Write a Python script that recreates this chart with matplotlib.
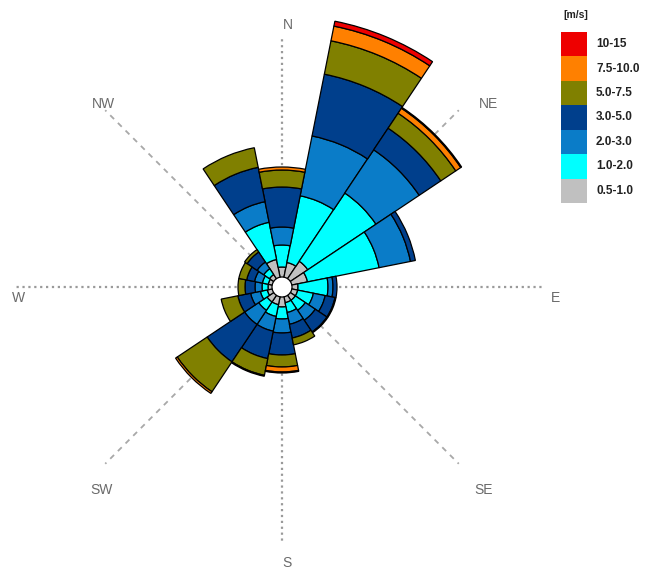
import numpy as np
import matplotlib
matplotlib.use("Agg")
import matplotlib.pyplot as plt

# wind rose: 16 sectors, frequency (%) per speed class
directions = ["N", "NNE", "NE", "ENE", "E", "ESE", "SE", "SSE",
              "S", "SSW", "SW", "WSW", "W", "WNW", "NW", "NNW"]
speed_classes = ["0.5-1.0", "1.0-2.0", "2.0-3.0", "3.0-5.0", "5.0-7.5", "7.5-10.0", "10-15"]
colors = ["#c0c0c0", "#00ffff", "#0a7cc8", "#003f8c", "#808000", "#ff8000", "#ee0000"]

f_05_1 = [0.50, 0.75, 1.05, 0.80, 0.30, 0.30, 0.30, 0.30, 0.50, 0.40, 0.40, 0.25, 0.20, 0.20, 0.25, 0.90]
f_1_2 = [1.10, 3.40, 4.10, 3.65, 1.50, 0.80, 0.60, 0.50, 0.60, 0.60, 0.50, 0.35, 0.30, 0.30, 0.35, 1.90]
f_2_3 = [0.90, 3.05, 2.60, 1.60, 0.25, 0.60, 0.60, 0.60, 0.70, 0.75, 0.85, 0.50, 0.35, 0.40, 0.40, 1.05]
f_3_5 = [2.00, 3.15, 1.30, 0.25, 0.20, 0.50, 0.70, 0.70, 1.10, 1.40, 2.25, 0.65, 0.50, 0.40, 0.60, 1.75]
f_5_75 = [0.85, 1.70, 0.90, 0.00, 0.00, 0.05, 0.05, 0.35, 0.60, 0.85, 1.80, 0.85, 0.35, 0.40, 0.15, 1.00]
f_75_10 = [0.15, 0.75, 0.30, 0.00, 0.00, 0.00, 0.00, 0.00, 0.25, 0.05, 0.10, 0.00, 0.00, 0.00, 0.00, 0.00]
f_10_15 = [0.00, 0.25, 0.05, 0.00, 0.00, 0.00, 0.00, 0.00, 0.05, 0.00, 0.00, 0.00, 0.00, 0.00, 0.00, 0.00]

series = [f_05_1, f_1_2, f_2_3, f_3_5, f_5_75, f_75_10, f_10_15]
hole = 0.5

W, H = 647, 571
cx, cy = 282, 284          # rose centre, pixels from bottom-left
R = 275                    # axes radius in pixels
rmax = R / 20.0

fig = plt.figure(figsize=(W / 100, H / 100), dpi=100)
ax = fig.add_axes([(cx - R) / W, (cy - R) / H, 2 * R / W, 2 * R / H], projection="polar")
ax.set_theta_zero_location("N")
ax.set_theta_direction(-1)
ax.set_ylim(0, rmax)
ax.axis("off")

# compass lines (kept out of the centre hole)
for ang, r_end in [(0, 12.4), (180, 12.7), (90, 13.1), (270, 13.4)]:
    ax.plot([np.deg2rad(ang)] * 2, [hole, r_end], ls=":", color="#9a9a9a", lw=1.6, zorder=0)
for ang in [45, 135, 225, 315]:
    ax.plot([np.deg2rad(ang)] * 2, [hole, 12.5], ls=(0, (3, 3)), color="#a8a8a8", lw=1.3, zorder=0)

theta = np.deg2rad(np.arange(16) * 22.5)
width = np.deg2rad(22.5)
bottom = np.full(16, hole)
for vals, col in zip(series, colors):
    vals = np.array(vals)
    m = vals > 0
    ax.bar(theta[m], vals[m], width=width, bottom=bottom[m], color=col,
           edgecolor="black", linewidth=0.9, zorder=2)
    bottom = bottom + vals

# compass labels (pixel positions from top-left)
labels = {"N": (288, 25), "NE": (488, 104), "E": (556, 298), "SE": (484, 490),
          "S": (287, 563), "SW": (102, 490), "W": (18, 298), "NW": (103, 104)}
for txt, (x, y) in labels.items():
    fig.text(x / W, 1 - y / H, txt, ha="center", va="center", fontsize=10,
             color="#6a6a6a", family="Liberation Sans")

# legend
lax = fig.add_axes([561 / W, (H - 203) / H, 26 / W, 171 / H])
ypos = np.arange(len(speed_classes))
lax.barh(ypos, [1] * len(ypos), height=1.0, color=colors, edgecolor="none")
lax.set_xlim(0, 1)
lax.set_ylim(-0.5, len(ypos) - 0.5)
lax.axis("off")
for y, lab in zip(ypos, speed_classes):
    lax.text(1.35, y, lab, ha="left", va="center", fontsize=8.5, weight="bold",
             family="Liberation Sans", color="#222222", clip_on=False)
fig.text(563 / W, 1 - 15 / H, "[m/s]", ha="left", va="center", fontsize=7.5,
         weight="bold", family="Liberation Sans", color="#222222")

fig.savefig("out.png", dpi=100)
